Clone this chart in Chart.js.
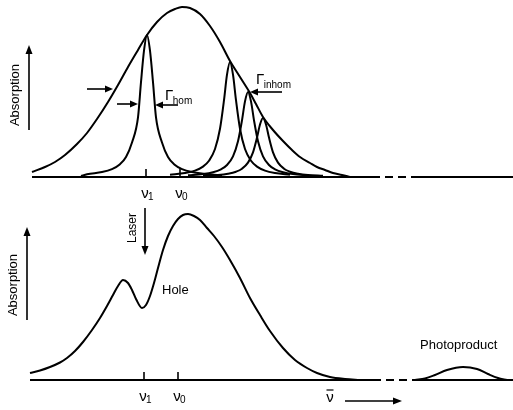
<!DOCTYPE html>
<html><head><meta charset="utf-8">
<script src="https://cdn.jsdelivr.net/npm/chart.js@4.4.0/dist/chart.umd.min.js"></script>
<style>
html,body{margin:0;padding:0;background:#fff;width:513px;height:410px;overflow:hidden}
#wrap{position:relative;width:513px;height:410px}
canvas{position:absolute;left:0}
#top{top:0;width:513px;height:200px}
#bot{top:200px;width:513px;height:210px}
</style></head><body>
<div id="wrap"><canvas id="top" width="513" height="200"></canvas><canvas id="bot" width="513" height="210"></canvas></div>
<script>
// ---------- DATA (arbitrary wavenumber units / arbitrary absorption units) ----------
// Top panel: inhomogeneous envelope
const envelopeX = [0.4, 3, 5, 7, 9.4, 11.4, 13.4, 15.6, 17.6, 19.6, 21.6, 23.4, 25.4, 27.4, 29, 30.4, 32, 34, 36, 38, 40, 42, 44, 45.2, 46.6, 48.6, 50.6, 52.4, 54, 56, 57.4, 59, 60.6, 62.4, 64];
const envelopeY = [5, 10, 15, 22, 33, 44, 58, 75, 92, 110, 127, 142, 155, 164, 168, 170, 169, 163, 151, 135, 116, 100, 84, 73, 60, 47, 36, 27, 20, 14, 10, 7, 4, 2, 0];
// Homogeneous lines
const lineV1X = [10.2, 11.4, 14.4, 16.4, 18.0, 19.2, 20.4, 21.6, 22.2, 22.8, 23.4, 24.0, 24.6, 25.2, 26.4, 27.6, 28.8, 30.4, 32.4, 35.4, 38.4];
const lineV1Y = [1.0, 2.8, 4.9, 7.9, 12.8, 20.0, 34.5, 59.6, 94.8, 126.3, 142, 126.3, 94.8, 59.6, 34.5, 20.0, 12.8, 7.9, 4.9, 2.8, 1.8];
const lineBX = [28, 31, 33, 34.6, 35.8, 37, 38, 38.8, 39.4, 40, 40.6, 41.2, 42, 43, 44.2, 45.4, 47, 49, 52];
const lineBY = [2.3, 4.0, 6.4, 10.4, 16.2, 28.0, 48.2, 76.8, 102.3, 115, 102.3, 76.8, 48.2, 28.0, 16.2, 10.4, 6.4, 4.0, 2.3];
const lineCX = [31.6, 34.6, 36.6, 38.2, 39.4, 40.6, 41.6, 42.4, 43.0, 43.6, 44.2, 44.8, 45.6, 46.6, 47.8, 49.0, 50.6, 52.6, 55.6];
const lineCY = [1.7, 2.9, 4.7, 7.7, 12.0, 20.7, 35.7, 56.7, 75.6, 85, 75.6, 56.7, 35.7, 20.7, 12.0, 7.7, 4.7, 2.9, 1.7];
const lineDX = [34.6, 37.6, 39.6, 41.2, 42.4, 43.6, 44.6, 45.4, 46.0, 46.6, 47.2, 47.8, 48.6, 49.6, 50.8, 52.0, 53.6, 55.6, 58.6];
const lineDY = [1.2, 2.0, 3.3, 5.3, 8.3, 14.4, 24.7, 39.4, 52.5, 59, 52.5, 39.4, 24.7, 14.4, 8.3, 5.3, 3.3, 2.0, 1.2];
// Bottom panel: spectrum after burning, with hole
const burnedX = [0, 2, 4, 6, 7.4, 9, 10.6, 12.4, 14, 15.4, 16.6, 17.6, 18.6, 19.6, 20.4, 21.2, 22.4, 23.2, 24, 24.8, 25.6, 26.6, 27.6, 28.6, 29.6, 30.6, 31.6, 32.8, 34, 35.4, 36.8, 38.4, 40, 42, 44, 46, 48, 50.6, 53, 55.4, 57.4, 60, 63, 66];
const burnedY = [7, 9.5, 13, 17.5, 22, 29, 38, 50, 62, 74, 85, 94, 100, 97, 90, 81, 72, 75, 84, 97, 112, 130, 144, 154, 161, 165, 166, 164, 160, 152, 144, 133, 120, 102, 82, 65, 49, 32, 20, 12, 7, 3, 1, 0];
const photoX = [77, 79, 81, 83.4, 86.6, 89.4, 91.6, 93.6, 95.4];
const photoY = [0, 1.5, 5, 10, 13, 11, 6, 2, 0];
// Axis: baseline segments (solid / broken / solid)
const topBaseX = [0.4, 68.4, 76.6, 96.6];
const botBaseX = [0, 68.6, 76.6, 96.6];
// Frequency marks
const topTicks = [{x: 23.2, sub: '1'}, {x: 30, sub: '0'}];
const botTicks = [{x: 22.8, sub: '1'}, {x: 29.6, sub: '0'}];
const laserX = 23;

// ---------- helpers ----------
const pts = (xs, ys) => xs.map((x, i) => ({x, y: ys[i]}));
const curve = (data, extra) => Object.assign({data, borderColor: '#000', borderWidth: 2, pointRadius: 0, fill: false, cubicInterpolationMode: 'monotone'}, extra || {});
const baseSets = (bx) => [
  curve([{x: bx[0], y: 0}, {x: bx[1], y: 0}]),
  curve([{x: bx[1], y: 0}, {x: bx[2], y: 0}], {borderDash: [8, 5]}),
  curve([{x: bx[2], y: 0}, {x: bx[3], y: 0}])
];
const FONT = '"Liberation Sans", Arial, Helvetica, sans-serif';

function arrow(ctx, x1, y1, x2, y2, head, hw) {
  head = head || 8; hw = hw || 3.5;
  const a = Math.atan2(y2 - y1, x2 - x1);
  ctx.beginPath(); ctx.moveTo(x1, y1); ctx.lineTo(x2 - head * 0.6 * Math.cos(a), y2 - head * 0.6 * Math.sin(a)); ctx.stroke();
  ctx.beginPath(); ctx.moveTo(x2, y2);
  ctx.lineTo(x2 - head * Math.cos(a) + hw * Math.sin(a), y2 - head * Math.sin(a) - hw * Math.cos(a));
  ctx.lineTo(x2 - head * Math.cos(a) - hw * Math.sin(a), y2 - head * Math.sin(a) + hw * Math.cos(a));
  ctx.closePath(); ctx.fill();
}

function makeAnnot(spec) {
  return {
    id: 'annot',
    afterDatasetsDraw(chart) {
      const ctx = chart.ctx, sx = chart.scales.x, sy = chart.scales.y;
      const X = v => sx.getPixelForValue(v), Y = v => sy.getPixelForValue(v);
      ctx.save();
      ctx.strokeStyle = '#000'; ctx.fillStyle = '#000'; ctx.lineWidth = 1.6;
      (spec.arrows || []).forEach(a => arrow(ctx, X(a[0]), Y(a[1]), X(a[2]), Y(a[3]), a[4], a[5]));
      ctx.lineWidth = 1.6;
      (spec.ticks || []).forEach(t => {
        ctx.beginPath(); ctx.moveTo(X(t.x), Y(0)); ctx.lineTo(X(t.x), Y(0) - 8); ctx.stroke();
        ctx.font = '15px ' + FONT; ctx.textBaseline = 'top'; ctx.textAlign = 'center';
        ctx.fillText('ν', X(t.x) - 1, Y(0) + 9);
        ctx.font = '10px ' + FONT; ctx.textAlign = 'left';
        ctx.fillText(t.sub, X(t.x) + 2, Y(0) + 15);
      });
      (spec.texts || []).forEach(t => {
        ctx.font = (t.size || 13) + 'px ' + FONT; ctx.textBaseline = 'middle'; ctx.textAlign = t.align || 'left';
        if (t.rot) {
          ctx.save(); ctx.translate(X(t.x), Y(t.y)); ctx.rotate(-Math.PI / 2); ctx.textAlign = 'center';
          ctx.fillText(t.text, 0, 0); ctx.restore();
        } else {
          ctx.fillText(t.text, X(t.x), Y(t.y));
        }
      });
      (spec.gammas || []).forEach(g => {
        ctx.font = '15px ' + FONT; ctx.textBaseline = 'alphabetic'; ctx.textAlign = 'left';
        ctx.fillText('Γ', X(g.x), Y(g.y));
        const w = ctx.measureText('Γ').width;
        ctx.font = '10px ' + FONT;
        ctx.fillText(g.sub, X(g.x) + w - 0.5, Y(g.y) + 4);
      });
      (spec.nubar || []).forEach(n => {
        ctx.font = '15px ' + FONT; ctx.textBaseline = 'alphabetic'; ctx.textAlign = 'center';
        ctx.fillText('ν', X(n.x), Y(n.y));
        ctx.lineWidth = 1.2;
        ctx.beginPath(); ctx.moveTo(X(n.x) - 3.5, Y(n.y) - 12); ctx.lineTo(X(n.x) + 3.5, Y(n.y) - 12); ctx.stroke();
      });
      ctx.restore();
    }
  };
}

function makeChart(id, datasets, yMin, yMax, spec) {
  return new Chart(document.getElementById(id), {
    type: 'line',
    data: {datasets},
    options: {
      responsive: false, animation: false, devicePixelRatio: 1,
      layout: {padding: 0},
      plugins: {legend: {display: false}, tooltip: {enabled: false}},
      scales: {
        x: {type: 'linear', min: -6, max: 96.6, display: false},
        y: {type: 'linear', min: yMin, max: yMax, display: false}
      }
    },
    plugins: [makeAnnot(spec)]
  });
}

// ---------- top panel ----------
makeChart('top', [
  curve(pts(envelopeX, envelopeY)),
  curve(pts(lineV1X, lineV1Y)),
  curve(pts(lineBX, lineBY)),
  curve(pts(lineCX, lineCY)),
  curve(pts(lineDX, lineDY)),
  ...baseSets(topBaseX)
], -23, 177, {
  arrows: [
    [11.4, 88, 16.6, 88],
    [17.4, 73, 21.6, 73],
    [29.6, 72, 25, 72],
    [50.4, 85, 44, 85],
    [-0.2, 47, -0.2, 132, 9, 3.5]
  ],
  ticks: topTicks,
  texts: [{text: 'Absorption', x: -3, y: 82, rot: true, size: 13}],
  gammas: [{x: 27, y: 77, sub: 'hom'}, {x: 45.2, y: 93, sub: 'inhom'}]
});

// ---------- bottom panel ----------
makeChart('bot', [
  curve(pts(burnedX, burnedY)),
  curve(pts(photoX, photoY)),
  ...baseSets(botBaseX)
], -30, 180, {
  arrows: [
    [laserX, 172, laserX, 125, 9, 3.5],
    [-0.6, 60, -0.6, 153, 9, 3.5],
    [63, -21, 74.4, -21, 9, 3.5]
  ],
  ticks: botTicks,
  texts: [
    {text: 'Absorption', x: -3.4, y: 95, rot: true, size: 13},
    {text: 'Laser', x: 20.6, y: 152, rot: true, size: 12},
    {text: 'Hole', x: 26.4, y: 90, size: 13},
    {text: 'Photoproduct', x: 78, y: 35, size: 13}
  ],
  nubar: [{x: 60, y: -22}]
});
</script>
</body></html>
